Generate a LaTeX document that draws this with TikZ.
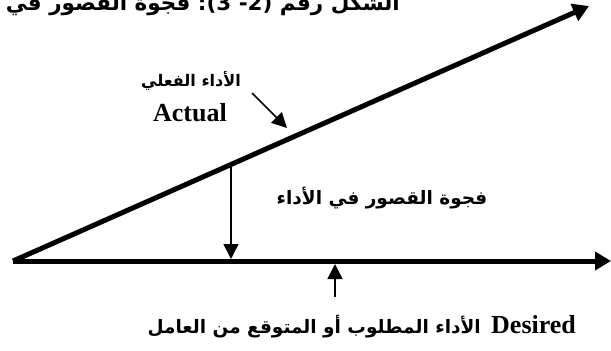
\documentclass[tikz,border=0pt]{standalone}
\usepackage{fontspec}
\setmainfont{Liberation Serif}
\newfontfamily\arabicfont[Script=Arabic]{DejaVu Sans}
\newfontfamily\punctfont{DejaVu Sans}
\TeXXeTstate=1
\usetikzlibrary{arrows.meta}
\begin{document}
\begin{tikzpicture}[x=1pt,y=-1pt,
  thickline/.style={line width=5pt,-{Triangle[length=16pt,width=18pt]}},
  thinarrow/.style={line width=1.5pt,-{Triangle[length=15pt,width=15pt]}},
  arlabel/.style={inner sep=0pt,font=\arabicfont\bfseries\fontsize{18.5}{22}\selectfont},
  arsmall/.style={inner sep=0pt,font=\arabicfont\bfseries\fontsize{16}{19}\selectfont},
  artitle/.style={inner sep=0pt,font=\arabicfont\bfseries\fontsize{21.5}{25}\selectfont},
  enlabel/.style={inner sep=0pt,font=\bfseries\fontsize{26}{30}\selectfont}]
\useasboundingbox (0,0) rectangle (611,351);
\clip (0,0) rectangle (611,351);
\fill[white] (0,0) rectangle (611,351);
% title (clipped at the top and left, as in the reference)
\node[artitle,anchor=base east] (title) at (400,10) {{\beginR فجوة القصور في الأداء\endR}{\punctfont\bfseries\ :(3 -2)\ }{\beginR الشكل رقم\endR}};
% main lines
\coordinate (O) at (13,261);
\coordinate (H) at (611,261);
\coordinate (D) at (589,6);
\draw[thickline] (O) -- (H);
\draw[thickline] (O) -- (D);
% gap arrow
\coordinate (g1) at (231,167);
\coordinate (g2) at (231,259);
\draw[thinarrow] (g1) -- (g2);
% desired arrow
\coordinate (d1) at (335,297);
\coordinate (d2) at (335,264);
\draw[thinarrow] (d1) -- (d2);
% actual arrow
\coordinate (a1) at (252,93);
\coordinate (a2) at (287,128);
\draw[thinarrow] (a1) -- (a2);
% labels
\node[arsmall,anchor=base] (actualar) at (191,86) {\beginR الأداء الفعلي\endR};
\node[enlabel,anchor=base] (actual) at (190,121) {Actual};
\node[arlabel,anchor=base] (gap) at (382,204) {\beginR فجوة القصور في الأداء\endR};
\node[arlabel,anchor=base east] (desar) at (481,333) {\beginR الأداء المطلوب أو المتوقع من العامل\endR};
\node[enlabel,anchor=base west] (des) at (491,333) {Desired};
\end{tikzpicture}
\end{document}
